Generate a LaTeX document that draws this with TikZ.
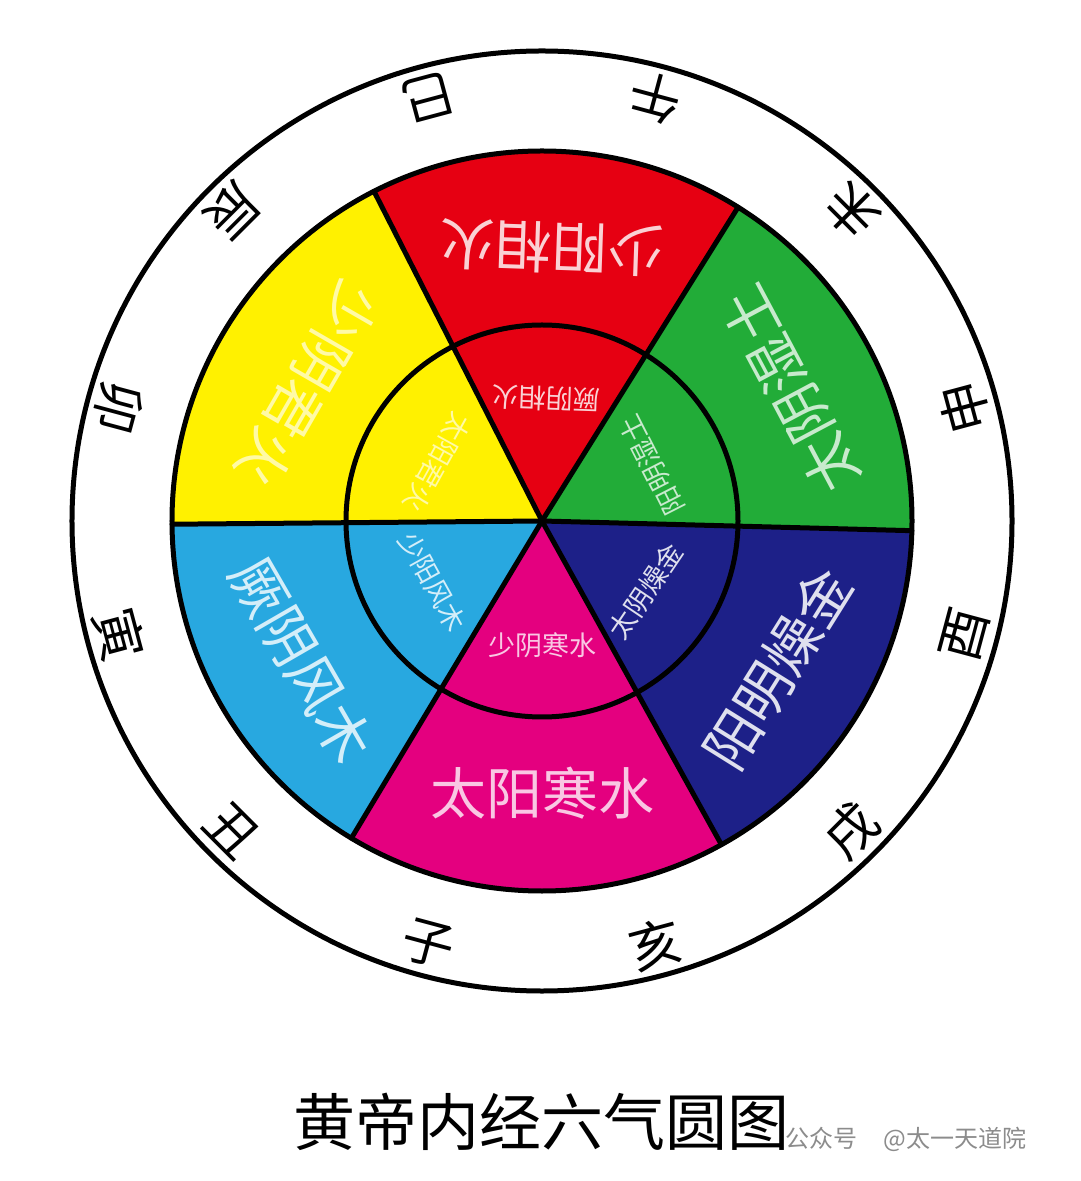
\documentclass[tikz,border=0pt]{standalone}
\usepackage{fontspec}
\newfontfamily\cjk{Noto Sans CJK SC}
\definecolor{cyel}{RGB}{255,241,0}
\definecolor{cred}{RGB}{230,0,18}
\definecolor{cgrn}{RGB}{34,172,56}
\definecolor{cnavy}{RGB}{29,32,136}
\definecolor{cmag}{RGB}{228,0,127}
\definecolor{csky}{RGB}{40,168,224}
\begin{document}
\begin{tikzpicture}[x=0.5pt,y=0.5pt,
  ring/.style={line width=2.5pt, draw=black},
  branch/.style={font=\cjk\fontsize{26}{28}\selectfont, text=black, inner sep=0pt},
  biglab/.style={font=\cjk\fontsize{28}{30}\selectfont, inner sep=0pt},
  smalllab/.style={font=\cjk\fontsize{13.5}{15}\selectfont, inner sep=0pt},
  titlelab/.style={font=\cjk\fontsize{31}{33}\selectfont, text=black, inner sep=0pt},
  wmark/.style={font=\cjk\fontsize{12}{14}\selectfont, text=black!45, inner sep=0pt}]
\useasboundingbox[fill=white] (-542,-660) rectangle (538,521);
\coordinate (O) at (0,0);
% sectors
\fill[cred]  (O) -- (58:370) arc[start angle=58, end angle=117, radius=370] -- cycle;
\fill[cyel]  (O) -- (117:370) arc[start angle=117, end angle=180.5, radius=370] -- cycle;
\fill[csky]  (O) -- (180.5:370) arc[start angle=180.5, end angle=239, radius=370] -- cycle;
\fill[cmag]  (O) -- (239:370) arc[start angle=239, end angle=299, radius=370] -- cycle;
\fill[cnavy] (O) -- (299:370) arc[start angle=299, end angle=358.5, radius=370] -- cycle;
\fill[cgrn]  (O) -- (-1.5:370) arc[start angle=-1.5, end angle=58, radius=370] -- cycle;
% rays
\foreach \a/\n in {58/r1,117/r2,180.5/r3,239/r4,299/r5,358.5/r6}
  \coordinate (\n) at (\a:370);
\foreach \n in {r1,r2,r3,r4,r5,r6}
  \draw[ring, line cap=round] (O) -- (\n);
% circles
\draw[ring] (O) circle[radius=470];
\draw[ring] (O) circle[radius=370];
\draw[ring] (O) circle[radius=196];
% outer sector labels
\node[biglab, text=cred!18!white,  rotate=178] (o1) at (88:273) {少阳相火};
\node[biglab, text=cyel!35!white,  rotate=240] (o2) at (150:271) {少阴君火};
\node[biglab, text=cgrn!25!white,  rotate=118] (o3) at (28:281) {太阴湿土};
\node[biglab, text=csky!20!white,  rotate=300] (o4) at (210:278) {厥阴风木};
\node[biglab, text=cmag!22!white,  rotate=0]   (o5) at (270:272) {太阳寒水};
\node[biglab, text=cnavy!14!white, rotate=58]  (o6) at (-32:278) {阳明燥金};
% inner sector labels
\node[smalllab, text=cred!18!white,  rotate=178] (i1) at (88:122) {厥阴相火};
\node[smalllab, text=cyel!35!white,  rotate=241] (i2) at (151:120) {太阳君火};
\node[smalllab, text=cgrn!25!white,  rotate=117] (i3) at (27:123) {阳明湿土};
\node[smalllab, text=csky!20!white,  rotate=299] (i4) at (209:125) {少阳风木};
\node[smalllab, text=cmag!22!white,  rotate=0]   (i5) at (270:124) {少阴寒水};
\node[smalllab, text=cnavy!14!white, rotate=56]  (i6) at (-34:125) {太阴燥金};
% earthly branches
\foreach \t/\a [count=\i] in {午/75,巳/105,辰/135,卯/165,寅/195,丑/225,子/255,亥/285,戌/315,酉/345,申/15,未/45}
  \node[branch, rotate=\a+90] (b\i) at (\a:438) {\t};
% title and watermark
\node[titlelab] (title) at (-1,-601) {黄帝内经六气圆图};
\node[wmark, anchor=west] (wm) at (243,-618) {公众号\hspace{1.1em}@太一天道院};
\end{tikzpicture}
\end{document}
